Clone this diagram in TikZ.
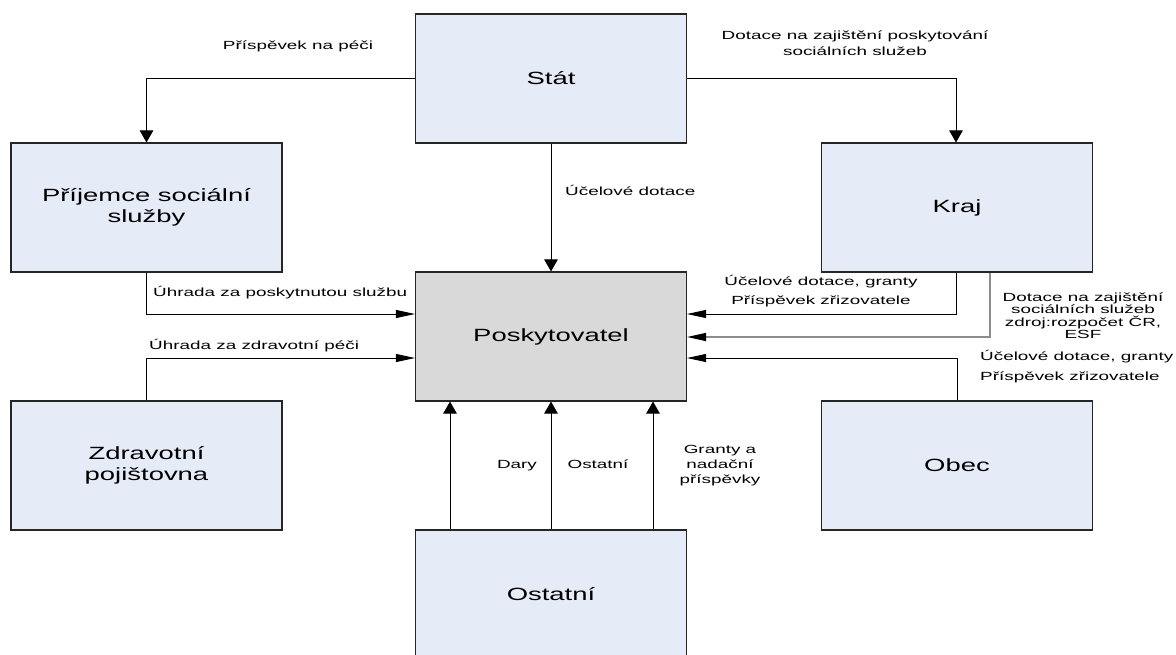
\documentclass[tikz,border=0pt]{standalone}
\usepackage{fontspec}
\setmainfont{Liberation Sans}
\newfontfamily\boxfont{Liberation Sans}[FakeStretch=1.55]
\newfontfamily\labelfont{Liberation Sans}[FakeStretch=1.6]
\usetikzlibrary{arrows.meta}
\definecolor{boxblue}{HTML}{E6ECF7}
\definecolor{boxgray}{HTML}{D9D9D9}
\definecolor{edge}{HTML}{262626}
\definecolor{feed}{HTML}{8C8C8C}

\begin{document}
\begin{tikzpicture}[x=1pt,y=-1pt,
  entity/.style={draw=edge, line width=1.1pt, fill=boxblue,
    minimum width=271pt, minimum height=129pt, inner sep=0pt, align=center,
    font=\boxfont\fontsize{17.7}{21.5}\selectfont},
  hub/.style={entity, fill=boxgray},
  flow/.style={line width=0.9pt, draw=black},
  hflow/.style={flow, -{Triangle[length=19pt,width=8pt]}},
  vflow/.style={flow, -{Triangle[length=12pt,width=13.5pt]}},
  lbl/.style={inner sep=0pt, align=center,
    font=\labelfont\fontsize{11.8}{15}\selectfont},
]
\clip (0,0) rectangle (1176,654);
\fill[white] (0,0) rectangle (1176,654);

% organisations
\node[entity] (stat) at (551,78.5)  {Stát};
\node[entity] (prij) at (146.5,207.5) {Příjemce sociální\\služby};
\node[entity] (kraj) at (957,207.5) {Kraj};
\node[hub]    (pos)  at (551,336.5) {Poskytovatel};
\node[entity] (zdr)  at (146.5,465.5) {Zdravotní\\pojištovna};
\node[entity] (obec) at (957,465.5) {Obec};
\node[entity] (ost)  at (551,594.5) {Ostatní};

% money flows from the state
\draw[vflow] (stat.west) -| (prij.north);
\draw[vflow] (stat.east) -| ([xshift=-1pt]kraj.north);
\draw[vflow] (stat.south) -- (pos.north);

% flows into the provider from the left
\draw[hflow] (prij.south) |- ([yshift=22.5pt]pos.west);
\draw[hflow] (zdr.north) |- ([yshift=-21.5pt]pos.west);

% flows into the provider from the right
\draw[hflow] ([xshift=-1pt]kraj.south) |- ([yshift=22.5pt]pos.east);
\draw[flow, draw=feed, line width=1.4pt, -{Triangle[length=19pt,width=8pt,color=black]}]
  ([xshift=33pt]kraj.south) |- ([yshift=-0.5pt]pos.east);
\draw[hflow] (obec.north) |- ([yshift=-21.5pt]pos.east);

% other sources
\draw[vflow] ([xshift=-101pt]ost.north) -- ([xshift=-101pt]pos.south);
\draw[vflow] (ost.north) -- (pos.south);
\draw[vflow] ([xshift=102pt]ost.north) -- ([xshift=102pt]pos.south);

% labels
\node[lbl, anchor=mid] (tpp) at (298,47) {Příspěvek na péči};
\node[lbl, font=\labelfont\fontsize{11.8}{16}\selectfont] (tdk) at (855,43)
  {Dotace na zajištění poskytování\\sociálních služeb};
\node[lbl, anchor=mid west] (tud) at (565,193) {Účelové dotace};
\node[lbl, anchor=mid west] (tup) at (153,294) {Úhrada za poskytnutou službu};
\node[lbl, anchor=mid west] (tuz) at (149,347) {Úhrada za zdravotní péči};
\node[lbl, anchor=mid] (tkg) at (821,283) {Účelové dotace, granty};
\node[lbl, anchor=mid] (tkz) at (821,302) {Příspěvek zřizovatele};
\node[lbl, font=\labelfont\fontsize{11.8}{12.5}\selectfont] (tkd) at (1083,315.5)
  {Dotace na zajištění\\sociálních služeb\\zdroj:rozpočet ČR,\\ESF};
\node[lbl, anchor=mid west] (tog) at (980,358) {Účelové dotace, granty};
\node[lbl, anchor=mid west] (toz) at (980,378) {Příspěvek zřizovatele};
\node[lbl, anchor=mid] (tda) at (517,466) {Dary};
\node[lbl, anchor=mid] (tos) at (598,466) {Ostatní};
\node[lbl] (tgr) at (720,466) {Granty a\\nadační\\příspěvky};
\end{tikzpicture}
\end{document}
